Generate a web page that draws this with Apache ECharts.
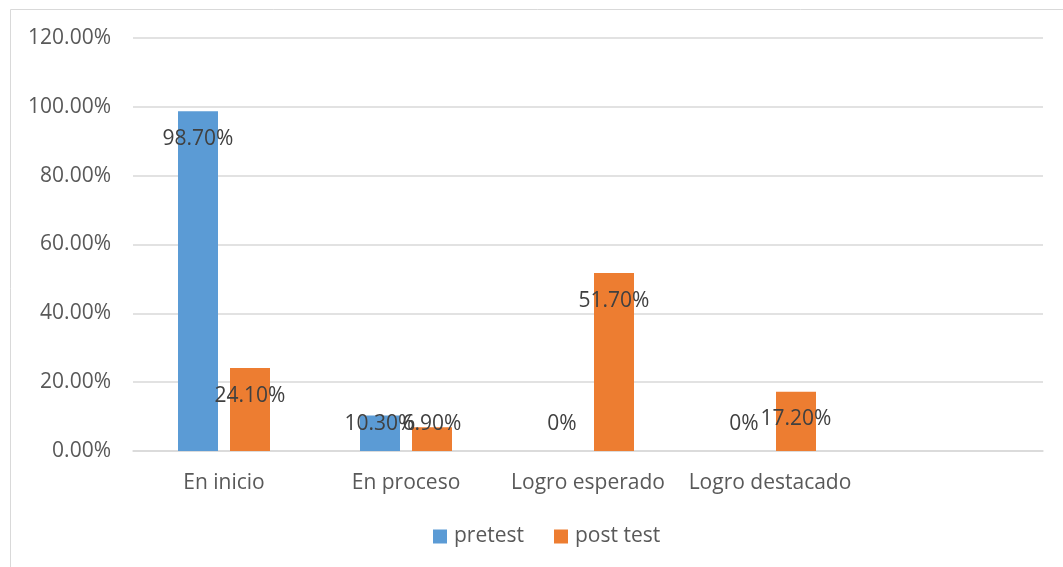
<!DOCTYPE html>
<html>
<head>
<meta charset="utf-8">
<script src="https://cdn.jsdelivr.net/npm/echarts@6/dist/echarts.min.js"></script>
<style>
  html, body { margin: 0; padding: 0; background: #fff; }
  #chart { width: 1063px; height: 567px; }
</style>
</head>
<body>
<div id="chart"></div>
<script>
const categories = ["En inicio", "En proceso", "Logro esperado", "Logro destacado", ""];
const pretest = [98.7, 10.3, 0, 0, null];
const postTest = [24.1, 6.9, 51.7, 17.2, null];
const yTicks = [0, 20, 40, 60, 80, 100, 120];

const FONT = "Open Sans";
const FS = 21;

// small bars get their label pushed up from the baseline, like Excel does
const withLabels = (values) =>
  values.map((v) =>
    v === null
      ? null
      : {
          value: v,
          label: v < 15
            ? { position: "insideBottom", distance: 16 }
            : { position: "insideTop", distance: 17 },
        }
  );

const fmt = (p) => (p.value === 0 ? "0%" : p.value.toFixed(2) + "%");

const chart = echarts.init(document.getElementById("chart"));

chart.setOption({
  animation: false,
  textStyle: { fontFamily: FONT },
  graphic: [
    {
      type: "rect",
      shape: { x: 10.5, y: 9.5, width: 1100, height: 600 },
      style: { fill: "none", stroke: "#d9d9d9", lineWidth: 1 },
      silent: true,
    },
  ],
  legend: {
    data: ["pretest", "post test"],
    bottom: 15,
    left: 428,
    itemWidth: 14,
    itemHeight: 14,
    itemGap: 30,
    icon: "rect",
    textStyle: { fontSize: FS, color: "#595959", fontFamily: FONT, padding: [0, 0, 0, 2] },
  },
  grid: { left: 133, right: 20, top: 38, bottom: 116 },
  xAxis: {
    type: "category",
    data: categories,
    axisLine: { lineStyle: { color: "#d9d9d9", width: 1.5 } },
    axisTick: { show: false },
    axisLabel: { fontSize: FS, color: "#595959", margin: 22, interval: 0, fontFamily: FONT },
  },
  yAxis: {
    type: "value",
    min: yTicks[0],
    max: yTicks[yTicks.length - 1],
    interval: 20,
    axisLine: { show: false },
    axisTick: { show: false },
    axisLabel: {
      fontSize: FS,
      color: "#595959",
      margin: 22,
      fontFamily: FONT,
      formatter: (v) => v.toFixed(2) + "%",
    },
    splitLine: { lineStyle: { color: "#d9d9d9", width: 1.5 } },
  },
  series: [
    {
      name: "pretest",
      type: "bar",
      data: withLabels(pretest),
      barWidth: 40,
      barGap: "30%",
      itemStyle: { color: "#5b9bd5" },
      label: { show: true, fontSize: FS, color: "#404040", fontFamily: FONT, formatter: fmt },
      labelLayout: { hideOverlap: false },
    },
    {
      name: "post test",
      type: "bar",
      data: withLabels(postTest),
      barWidth: 40,
      itemStyle: { color: "#ed7d31" },
      label: { show: true, fontSize: FS, color: "#404040", fontFamily: FONT, formatter: fmt },
      labelLayout: { hideOverlap: false },
    },
  ],
});
</script>
</body>
</html>
